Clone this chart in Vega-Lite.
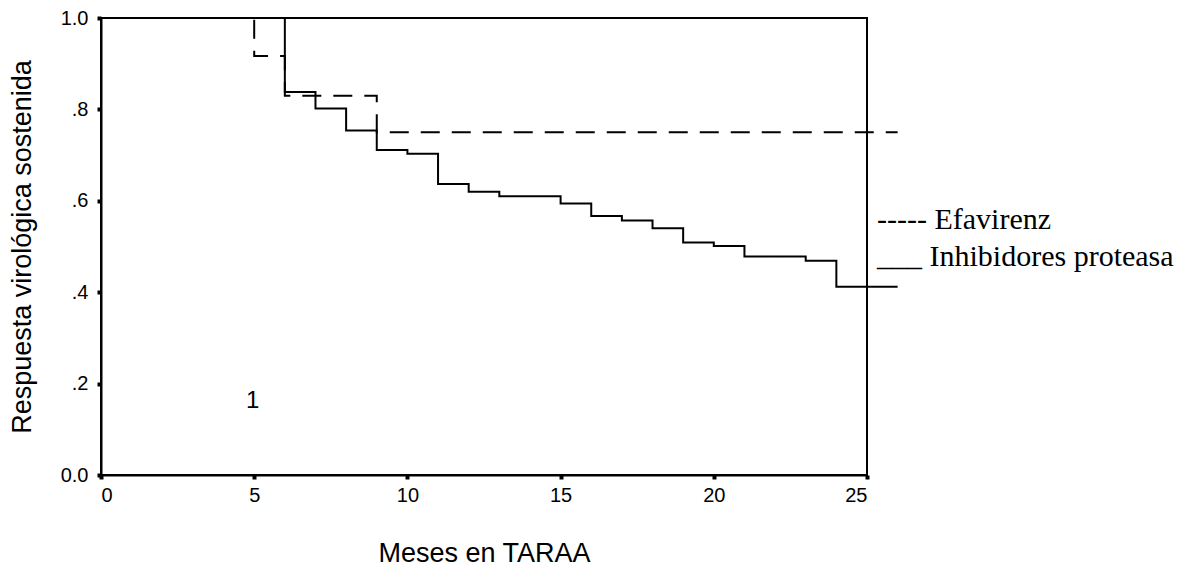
{
  "$schema": "https://vega.github.io/schema/vega-lite/v6.json",
  "width": 766,
  "height": 457,
  "autosize": {"type": "none"},
  "padding": {"left": 101, "top": 18, "right": 317, "bottom": 105},
  "background": "white",
  "config": {
    "view": {"stroke": "black", "strokeWidth": 2},
    "axis": {
      "grid": false,
      "domainColor": "black",
      "domainWidth": 2,
      "tickColor": "black",
      "tickWidth": 4,
      "tickSize": 4,
      "labelFont": "Liberation Sans",
      "labelFontSize": 20,
      "labelColor": "black",
      "titleFont": "Liberation Sans",
      "titleFontSize": 27,
      "titleFontWeight": "normal",
      "titleColor": "black"
    },
    "legend": {
      "symbolSize": 0,
      "symbolStrokeWidth": 0,
      "symbolOpacity": 0,
      "labelOffset": 0,
      "padding": 0,
      "rowPadding": 7,
      "labelFont": "Liberation Serif",
      "labelFontSize": 30,
      "labelColor": "black",
      "labelLimit": 500
    }
  },
  "layer": [
    {
      "data": {
        "values": [
          {"g": "Efavirenz", "mes": 0, "resp": 1.0},
          {"g": "Efavirenz", "mes": 5, "resp": 0.917},
          {"g": "Efavirenz", "mes": 6, "resp": 0.83},
          {"g": "Efavirenz", "mes": 9, "resp": 0.75},
          {"g": "Efavirenz", "mes": 26, "resp": 0.75},
          {"g": "Inhibidores proteasa", "mes": 0, "resp": 1.0},
          {"g": "Inhibidores proteasa", "mes": 6, "resp": 0.838},
          {"g": "Inhibidores proteasa", "mes": 7, "resp": 0.802},
          {"g": "Inhibidores proteasa", "mes": 8, "resp": 0.754},
          {"g": "Inhibidores proteasa", "mes": 9, "resp": 0.711},
          {"g": "Inhibidores proteasa", "mes": 10, "resp": 0.703},
          {"g": "Inhibidores proteasa", "mes": 11, "resp": 0.637},
          {"g": "Inhibidores proteasa", "mes": 12, "resp": 0.62},
          {"g": "Inhibidores proteasa", "mes": 13, "resp": 0.61},
          {"g": "Inhibidores proteasa", "mes": 15, "resp": 0.594},
          {"g": "Inhibidores proteasa", "mes": 16, "resp": 0.567},
          {"g": "Inhibidores proteasa", "mes": 17, "resp": 0.557},
          {"g": "Inhibidores proteasa", "mes": 18, "resp": 0.54},
          {"g": "Inhibidores proteasa", "mes": 19, "resp": 0.509},
          {"g": "Inhibidores proteasa", "mes": 20, "resp": 0.501},
          {"g": "Inhibidores proteasa", "mes": 21, "resp": 0.478},
          {"g": "Inhibidores proteasa", "mes": 23, "resp": 0.469},
          {"g": "Inhibidores proteasa", "mes": 24, "resp": 0.412},
          {"g": "Inhibidores proteasa", "mes": 26, "resp": 0.412}
        ]
      },
      "mark": {"type": "line", "interpolate": "step-after", "clip": false, "color": "black", "strokeWidth": 2},
      "encoding": {
        "x": {
          "field": "mes",
          "type": "quantitative",
          "scale": {"domain": [0, 25], "nice": false, "zero": false},
          "axis": {"values": [0, 5, 10, 15, 20, 25], "labelPadding": 6, "title": "Meses en TARAA", "titlePadding": 35}
        },
        "y": {
          "field": "resp",
          "type": "quantitative",
          "scale": {"domain": [0, 1], "nice": false},
          "axis": {
            "values": [0, 0.2, 0.4, 0.6, 0.8, 1.0],
            "labelExpr": "datum.value == 0 ? '0.0' : (datum.value == 1 ? '1.0' : '.' + round(datum.value * 10))",
            "labelPadding": 9,
            "title": "Respuesta virológica sostenida",
            "titlePadding": 24
          }
        },
        "strokeDash": {
          "field": "g",
          "type": "nominal",
          "scale": {"domain": ["Efavirenz", "Inhibidores proteasa"], "range": [[19, 12], [1, 0]]},
          "legend": {
            "orient": "none",
            "legendX": 746,
            "legendY": 187,
            "title": null,
            "labelExpr": "datum.value == 'Efavirenz' ? '----- Efavirenz' : '___ Inhibidores proteasa'"
          }
        }
      }
    },
    {
      "data": {"values": [{"mes": 4.95, "resp": 0.162, "t": "1"}]},
      "mark": {"type": "text", "font": "Liberation Sans", "fontSize": 24, "color": "black"},
      "encoding": {
        "x": {"field": "mes", "type": "quantitative"},
        "y": {"field": "resp", "type": "quantitative"},
        "text": {"field": "t"}
      }
    }
  ]
}
